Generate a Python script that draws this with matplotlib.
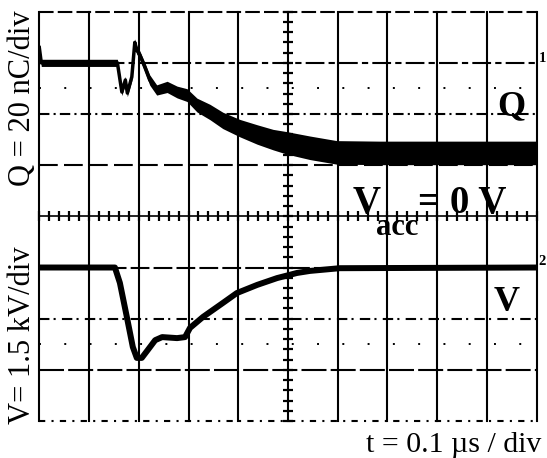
import numpy as np
import matplotlib
matplotlib.use('Agg')
import matplotlib.pyplot as plt

# ── data ──
# time in µs (0.1 µs/div), Q in nC relative to marker 1, V in kV relative to marker 2
q_t = [0.000, 0.004, 0.157, 0.166, 0.173, 0.177, 0.186, 0.192, 0.196, 0.202, 0.212,
       0.222, 0.236, 0.257, 0.277, 0.297, 0.317, 0.343, 0.369, 0.403, 0.438, 0.470,
       0.498, 0.544, 0.598, 0.685, 1.000]
q_nc = [6.0, 0.0, 0.0, -11.4, -6.7, -11.8, -5.5, 8.0, 5.0, 3.1, -1.6,
        -6.7, -10.6, -9.4, -11.4, -12.6, -16.5, -19.2, -22.5, -25.5, -28.0, -30.0,
        -31.3, -33.2, -35.0, -35.2, -35.2]
# half thickness of the noisy Q trace (nC)
q_half = [1.4, 1.4, 1.4, 1.4, 1.4, 1.4, 1.4, 1.4, 1.6, 1.6, 1.8,
          2.0, 2.0, 2.2, 2.3, 2.5, 2.7, 3.0, 3.2, 3.4, 3.8, 4.0,
          4.4, 4.6, 4.6, 4.6, 4.6]

v_t = [0.000, 0.152, 0.162, 0.176, 0.188, 0.196, 0.206, 0.218, 0.233, 0.247, 0.277,
       0.293, 0.303, 0.329, 0.369, 0.397, 0.438, 0.478, 0.518, 0.544, 0.604, 1.000]
v_kv = [0.0, 0.0, -0.45, -1.45, -2.33, -2.65, -2.65, -2.42, -2.13, -2.04, -2.07,
        -2.04, -1.77, -1.45, -1.04, -0.75, -0.51, -0.31, -0.16, -0.10, -0.02, 0.0]

Q_PER_DIV = 20.0   # nC/div
V_PER_DIV = 1.5    # kV/div
Q_MARK = 3         # channel 1 marker (div)
V_MARK = -1        # channel 2 marker (div)

W, H = 547, 458
SERIF = 'Liberation Serif'

fig = plt.figure(figsize=(W / 100, H / 100), dpi=100)
fig.patch.set_facecolor('white')
ax = fig.add_axes([39.3 / W, 1 - 421 / H, (536.7 - 39.3) / W, (421 - 11.7) / H])
ax.set_xlim(0, 1.0)
ax.set_ylim(-4, 4)
ax.axis('off')

# ── graticule ──
lw = 1.5
for i in range(11):
    ax.axvline(i * 0.1, color='black', lw=lw, clip_on=False)

h_styles = {
    4: (0, (7, 2)),
    3: (0, (9, 2, 3, 2)),
    2: (0, (5, 2, 1, 2)),
    1: (0, (9, 3)),
    -1: (0, (9, 2)),
    -2: (0, (5, 2, 1, 3)),
    -3: (0, (12, 2)),
    -4: (0, (3, 3, 1, 3)),
}
for y, ls in h_styles.items():
    ax.axhline(y, color='black', lw=lw, ls=ls, clip_on=False)
ax.axhline(0, color='black', lw=1.2, clip_on=False)
# sparse dotted half-division lines
for y in (2.5, -2.5):
    ax.axhline(y, color='black', lw=1.4, ls=(0, (1, 12)))

# centre ticks
ticks_y = np.arange(-4, 4.01, 0.2)
ax.plot(np.full_like(ticks_y, 0.5), ticks_y, ls='none', marker='_', ms=7,
        mew=1.6, color='black', clip_on=False)
ticks_x = np.arange(0, 1.001, 0.02)
ax.plot(ticks_x, np.zeros_like(ticks_x), ls='none', marker='|', ms=7,
        mew=1.6, color='black', clip_on=False)

# ── traces ──
qt = np.array(q_t)
qy = np.array(q_nc) / Q_PER_DIV + Q_MARK
qh = np.array(q_half) / Q_PER_DIV
ax.fill_between(qt, qy - qh, qy + qh, color='black', lw=0)
ax.plot(qt, qy, color='black', lw=2.5, solid_joinstyle='round')

vy = np.array(v_kv) / V_PER_DIV + V_MARK
ax.plot(v_t, vy, color='black', lw=4.3, solid_joinstyle='round', solid_capstyle='butt')

# ── text ──
def px(x, y):
    return x / W, 1 - y / H

fig.text(*px(23, 98), 'Q = 20 nC/div', rotation=90, ha='center', va='center',
         family=SERIF, fontsize=22)
fig.text(*px(23, 335), 'V= 1.5 kV/div', rotation=90, ha='center', va='center',
         family=SERIF, fontsize=22)
fig.text(*px(541, 452), 't = 0.1 \u00b5s / div', ha='right', va='baseline',
         family=SERIF, fontsize=21.5)

fig.text(*px(497, 115), 'Q', ha='left', va='baseline', family=SERIF,
         fontsize=26, fontweight='bold')
fig.text(*px(494, 311), 'V', ha='left', va='baseline', family=SERIF,
         fontsize=26, fontweight='bold')
fig.text(*px(353, 213), 'V', ha='left', va='baseline', family=SERIF,
         fontsize=28, fontweight='bold')
fig.text(*px(376, 235), 'acc', ha='left', va='baseline', family=SERIF,
         fontsize=22, fontweight='bold')
fig.text(*px(418, 213), '= 0 V', ha='left', va='baseline', family=SERIF,
         fontsize=28, fontweight='bold')

# channel markers at the right edge
fig.text(*px(538.5, 62), '1', ha='left', va='baseline', family=SERIF,
         fontsize=10.5, fontweight='bold')
fig.text(*px(538.5, 265), '2', ha='left', va='baseline', family=SERIF,
         fontsize=10.5, fontweight='bold')

fig.savefig('out.png', dpi=100, facecolor='white')
